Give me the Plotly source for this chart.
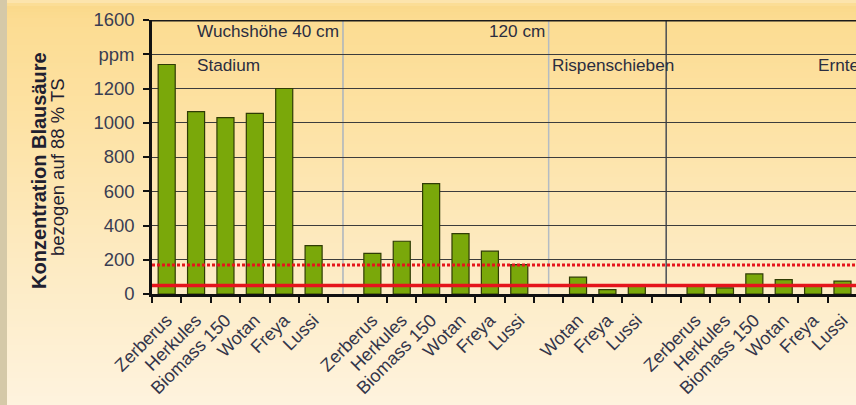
import plotly.graph_objects as go

# ---------------- data ----------------
categories = ["Zerberus", "Herkules", "Biomass 150", "Wotan", "Freya", "Lussi", "",
              "Zerberus", "Herkules", "Biomass 150", "Wotan", "Freya", "Lussi", "",
              "Wotan", "Freya", "Lussi", "",
              "Zerberus", "Herkules", "Biomass 150", "Wotan", "Freya", "Lussi"]
values = [1340, 1065, 1030, 1055, 1200, 282, None,
          237, 308, 645, 352, 250, 172, None,
          98, 26, 52, None,
          52, 36, 117, 84, 50, 75]
limit_solid = 50
limit_dotted = 170
separator_positions = [6, 13, 17]
y_tickvals = [0, 200, 400, 600, 800, 1000, 1200, 1400, 1600]
y_ticktext = ["0", "200", "400", "600", "800", "1000", "1200", "ppm", "1600"]
y_title_1 = "Konzentration Blausäure"
y_title_2 = "bezogen auf 88 % TS"
row1_left = "Wuchshöhe 40 cm"
row1_right = "120 cm"
row2_texts = ["Stadium", "Rispenschieben", "Ernte"]

x_pos = list(range(len(categories)))

# ---------------- geometry ----------------
W, H = 856, 405
ML, MR, MT, MB = 152, 0, 20, 111
PW, PH = W - ML - MR, H - MT - MB


def pxx(px):
    return (px - ML) / PW


def pyy(py):
    return (H - MB - py) / PH


def lerp_color(stops, y):
    for (y0, c0), (y1, c1) in zip(stops, stops[1:]):
        if y0 <= y <= y1:
            t = (y - y0) / (y1 - y0) if y1 > y0 else 0
            a = [int(c0[i:i + 2], 16) for i in (1, 3, 5)]
            b = [int(c1[i:i + 2], 16) for i in (1, 3, 5)]
            c = [round(a[k] + (b[k] - a[k]) * t) for k in range(3)]
            return "rgb(%d,%d,%d)" % tuple(c)
    return stops[-1][1]


bg_stops = [(0, "#fde8b8"), (6, "#fad98b"), (20, "#fcdc92"), (120, "#fde2a4"),
            (250, "#fdeac0"), (405, "#fef3de")]

shapes = []
step = 3
for py in range(0, H, step):
    shapes.append(dict(type="rect", xref="paper", yref="paper", layer="below",
                       x0=pxx(0), x1=pxx(W + 2), y0=pyy(py + step + 0.5), y1=pyy(py),
                       line=dict(width=0), fillcolor=lerp_color(bg_stops, py + step / 2)))
shapes.append(dict(type="rect", xref="paper", yref="paper", layer="below",
                   x0=pxx(0), x1=pxx(7), y0=pyy(H + 2), y1=pyy(0),
                   line=dict(width=0), fillcolor="#d5c9a8"))

sep_colors = ["#aab4bf", "#b4bcc4", "#4a4e55"]
for xs, col in zip(separator_positions, sep_colors):
    shapes.append(dict(type="line", xref="x", yref="paper", layer="below",
                       x0=xs, x1=xs, y0=0, y1=1, line=dict(color=col, width=1.5)))

# top border
shapes.append(dict(type="line", xref="paper", yref="y", layer="above",
                   x0=0, x1=1, y0=1600, y1=1600, line=dict(color="#1a1a1a", width=3)))
# threshold lines
shapes.append(dict(type="line", xref="paper", yref="y", layer="above",
                   x0=0, x1=1, y0=limit_dotted, y1=limit_dotted,
                   line=dict(color="#e5141c", width=3, dash="3px,2px")))
shapes.append(dict(type="line", xref="paper", yref="y", layer="above",
                   x0=0, x1=1, y0=limit_solid, y1=limit_solid,
                   line=dict(color="#e5141c", width=3.5)))

fig = go.Figure()
fig.add_trace(go.Bar(x=x_pos, y=values, width=0.58,
                     marker=dict(color="#7aa80a", line=dict(color="#2f3b05", width=1.2)),
                     showlegend=False, hoverinfo="skip"))

txt_color = "#2b2d40"
font_fam = "Liberation Sans, Arial, sans-serif"
ann_size = 17.2

annotations = [
    dict(text=row1_left, x=0.96, y=1536, xref="x", yref="y", xanchor="left", yanchor="middle",
         showarrow=False, font=dict(size=ann_size, color=txt_color, family=font_fam)),
    dict(text=row1_right, x=12.94, y=1536, xref="x", yref="y", xanchor="right", yanchor="middle",
         showarrow=False, font=dict(size=ann_size, color=txt_color, family=font_fam)),
    dict(text=row2_texts[0], x=0.96, y=1337, xref="x", yref="y", xanchor="left", yanchor="middle",
         showarrow=False, font=dict(size=ann_size, color=txt_color, family=font_fam)),
    dict(text=row2_texts[1], x=13.03, y=1337, xref="x", yref="y", xanchor="left", yanchor="middle",
         showarrow=False, font=dict(size=ann_size, color=txt_color, family=font_fam)),
    dict(text=row2_texts[2], x=22.1, y=1337, xref="x", yref="y", xanchor="left", yanchor="middle",
         showarrow=False, font=dict(size=ann_size, color=txt_color, family=font_fam)),
    dict(text="<b>" + y_title_1 + "</b>", x=pxx(39), y=pyy(171), xref="paper", yref="paper",
         xanchor="center", yanchor="middle", textangle=-90, showarrow=False,
         font=dict(size=20, color="#1f2030", family=font_fam)),
    dict(text=y_title_2, x=pxx(57), y=pyy(167), xref="paper", yref="paper",
         xanchor="center", yanchor="middle", textangle=-90, showarrow=False,
         font=dict(size=18.5, color="#1f2030", family=font_fam)),
]

tick_idx = [i for i, c in enumerate(categories) if c]
fig.update_layout(
    width=W, height=H,
    margin=dict(l=ML, r=MR, t=MT, b=MB, pad=0),
    paper_bgcolor="#fdf0d0",
    plot_bgcolor="rgba(0,0,0,0)",
    shapes=shapes,
    annotations=annotations,
    bargap=0.42,
    xaxis=dict(
        range=[-0.5, 23.46],
        tickmode="array", tickvals=tick_idx, ticktext=[categories[i] for i in tick_idx],
        tickangle=-45, ticks="", ticklabelstandoff=6,
        tickfont=dict(size=18, color="#33354a", family=font_fam),
        showline=True, linecolor="#111111", linewidth=2.5,
        showgrid=False, zeroline=False,
        minor=dict(tickmode="array", tickvals=[i - 0.5 for i in range(len(categories) + 1)],
                   ticks="outside", ticklen=6, tickwidth=2, tickcolor="#111111", showgrid=False),
    ),
    yaxis=dict(
        range=[0, 1600],
        tickmode="array", tickvals=y_tickvals, ticktext=y_ticktext,
        ticks="outside", ticklen=6, tickwidth=2, tickcolor="#111111",
        ticklabelstandoff=5,
        tickfont=dict(size=18.5, color="#3a3d52", family=font_fam),
        showline=True, linecolor="#111111", linewidth=2.5,
        showgrid=True, gridcolor="#3c3c3c", gridwidth=1.2,
        zeroline=False,
    ),
)

fig.write_html("out.html")
